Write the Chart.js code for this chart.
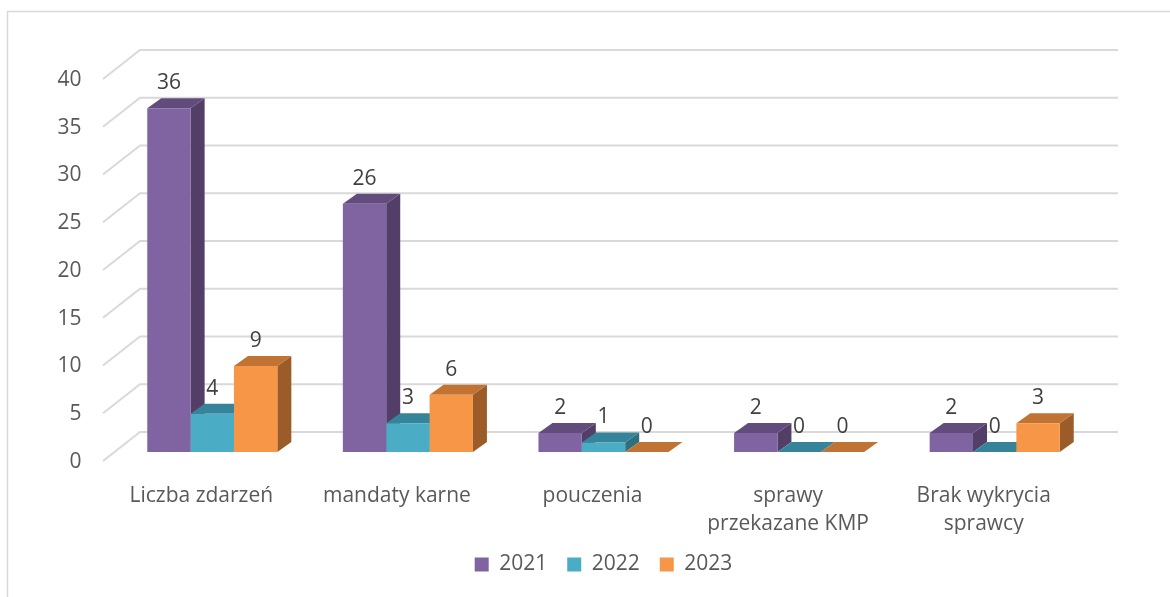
<!DOCTYPE html>
<html>
<head>
<meta charset="utf-8">
<script src="https://cdn.jsdelivr.net/npm/chart.js@4.4.0/dist/chart.umd.min.js"></script>
<style>
  html, body { margin: 0; padding: 0; background: #fff; }
  #wrap { width: 1170px; height: 597px; position: relative; }
</style>
</head>
<body>
<div id="wrap"><canvas id="chart"></canvas></div>
<script>
const categories = ['Liczba zdarzeń', 'mandaty karne', 'pouczenia', ['sprawy', 'przekazane KMP'], ['Brak wykrycia', 'sprawcy']]
const years = ['2021', '2022', '2023']
const values2021 = [36, 26, 2, 2, 2]
const values2022 = [4, 3, 1, 0, 0]
const values2023 = [9, 6, 0, 0, 3]

// front / top / side shades for each year
const frontColors = ['#8064A2', '#4BACC6', '#F79646']
const topColors = ['#614C7D', '#36849A', '#C07332']
const sideColors = ['#523E67', '#2F6F80', '#9C5C29']

// extrusion of each bar and the perspective of the walls
const BAR_DX = 14, BAR_DY = 10
const FRONT_DX = -11.5, FRONT_DY = 9
const BACK_DX = 25.5, BACK_DY = -20

const GRID = '#D9D9D9'
const TEXT = '#595959'
const FONT = 'Open Sans'
const FONT_SIZE = 21

const threeD = {
  id: 'threeD',
  beforeDraw(chart) {
    const ctx = chart.ctx
    ctx.save()
    ctx.strokeStyle = GRID
    ctx.lineWidth = 1.5
    ctx.strokeRect(7.5, 11.5, 1300, 700)
    ctx.restore()
  },
  beforeDatasetsDraw(chart) {
    const { ctx, chartArea: a, scales: { y } } = chart
    ctx.save()
    // side wall diagonals and back wall gridlines
    ctx.strokeStyle = GRID
    ctx.lineWidth = 2
    y.ticks.forEach(t => {
      const py = y.getPixelForValue(t.value)
      ctx.beginPath()
      ctx.moveTo(a.left + FRONT_DX, py + FRONT_DY)
      ctx.lineTo(a.left + BACK_DX, py + BACK_DY)
      ctx.lineTo(a.right + BACK_DX, py + BACK_DY)
      ctx.stroke()
    })
    // top and side faces, left to right so later bars cover earlier ones
    const n = chart.data.labels.length
    for (let i = 0; i < n; i++) {
      chart.data.datasets.forEach((ds, d) => {
        const bar = chart.getDatasetMeta(d).data[i]
        const l = bar.x - bar.width / 2, r = bar.x + bar.width / 2
        const top = bar.y, base = bar.base
        ctx.fillStyle = sideColors[d]
        ctx.beginPath()
        ctx.moveTo(r, top)
        ctx.lineTo(r + BAR_DX, top - BAR_DY)
        ctx.lineTo(r + BAR_DX, base - BAR_DY)
        ctx.lineTo(r, base)
        ctx.closePath()
        ctx.fill()
        ctx.fillStyle = topColors[d]
        ctx.beginPath()
        ctx.moveTo(l, top)
        ctx.lineTo(r, top)
        ctx.lineTo(r + BAR_DX, top - BAR_DY)
        ctx.lineTo(l + BAR_DX, top - BAR_DY)
        ctx.closePath()
        ctx.fill()
      })
    }
    ctx.restore()
  },
  afterDatasetsDraw(chart) {
    const ctx = chart.ctx
    ctx.save()
    ctx.fillStyle = '#404040'
    ctx.font = FONT_SIZE + 'px "' + FONT + '"'
    ctx.textAlign = 'center'
    ctx.textBaseline = 'middle'
    chart.data.datasets.forEach((ds, d) => {
      chart.getDatasetMeta(d).data.forEach((bar, i) => {
        ctx.fillText(String(ds.data[i]), bar.x, bar.y - 25)
      })
    })
    ctx.restore()
  }
}

Chart.defaults.font.family = FONT
Chart.defaults.font.size = FONT_SIZE
Chart.defaults.color = TEXT

new Chart(document.getElementById('chart'), {
  type: 'bar',
  data: {
    labels: categories,
    datasets: [
      { label: years[0], data: values2021, backgroundColor: frontColors[0] },
      { label: years[1], data: values2022, backgroundColor: frontColors[1] },
      { label: years[2], data: values2023, backgroundColor: frontColors[2] }
    ]
  },
  options: {
    responsive: true,
    maintainAspectRatio: false,
    animation: false,
    layout: { padding: { top: 70, right: 77.5, left: 0, bottom: 12 } },
    datasets: { bar: { categoryPercentage: 0.665, barPercentage: 1, borderWidth: 0 } },
    scales: {
      x: {
        grid: { display: false, drawTicks: false },
        border: { display: false },
        ticks: { padding: 30, labelOffset: -11, font: { lineHeight: 1.33 }, maxRotation: 0, autoSkip: false },
        afterFit(scale) { scale.height = 82 }
      },
      y: {
        min: 0,
        max: 40,
        grid: { display: false, drawTicks: false },
        border: { display: false },
        ticks: { stepSize: 5, padding: 33, labelOffset: 10 },
        afterFit(scale) { scale.width = 114.5 }
      }
    },
    plugins: {
      legend: {
        position: 'bottom',
        fullSize: false,
        labels: { boxWidth: 14, boxHeight: 14, padding: 20 }
      },
      tooltip: { enabled: false }
    }
  },
  plugins: [threeD]
})
</script>
</body>
</html>
